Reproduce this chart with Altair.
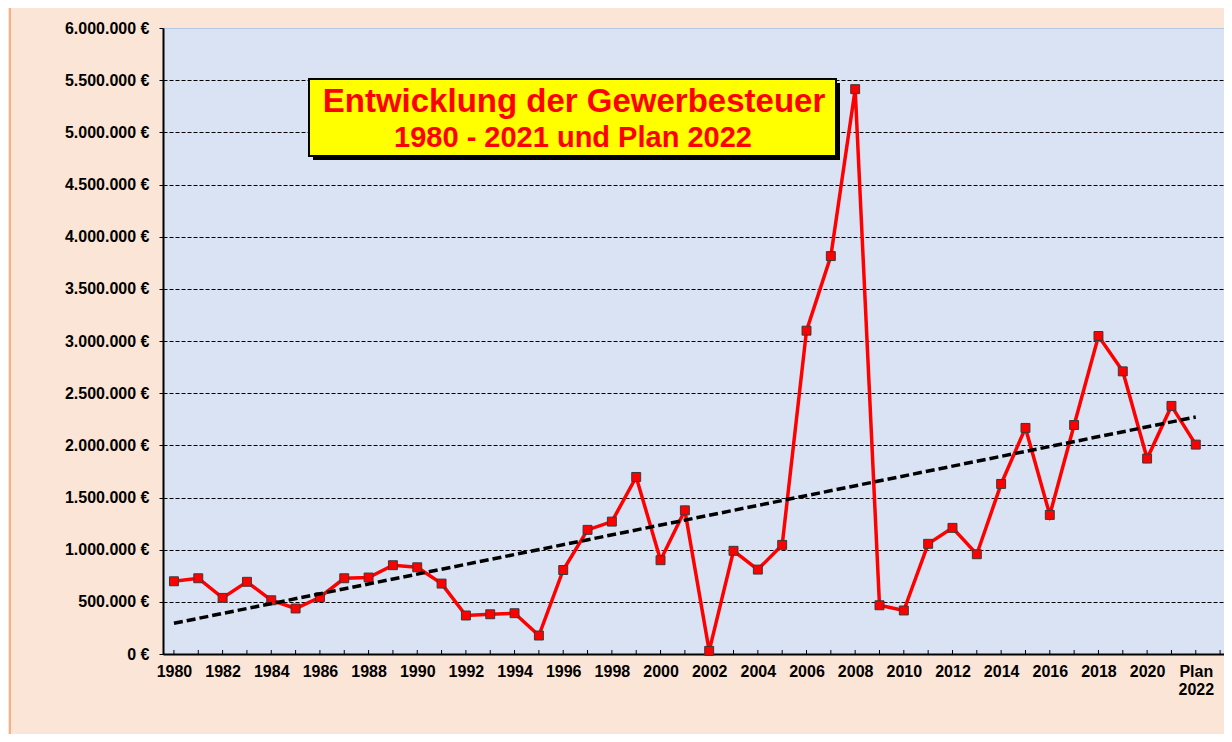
import altair as alt
import pandas as pd

# ---- data ----
years = list(range(1980, 2023))
values = [697000, 726000, 538000, 692000, 515000, 436000, 544000, 726000, 733000, 851000,
          831000, 675000, 369000, 381000, 391000, 177000, 805000, 1190000, 1269000, 1697000,
          899000, 1377000, 30000, 989000, 809000, 1046000, 3099000, 3814000, 5414000, 467000,
          417000, 1056000, 1209000, 956000, 1630000, 2167000, 1333000, 2195000, 3048000, 2709000,
          1873000, 2378000, 2007000]
label_years = list(range(1980, 2023, 2))
tick_years = list(range(1980, 2024))
y_ticks = list(range(0, 6000001, 500000))
title_lines = ["Entwicklung der Gewerbesteuer", "1980 - 2021 und Plan 2022"]

W, H = 1061, 626
FONT = "Liberation Sans, Arial, sans-serif"

df = pd.DataFrame({"year": years, "value": values})
one = pd.DataFrame({"a": [0]})

xscale = alt.Scale(domain=[1979.55, 2023.16], nice=False, zero=False)
yscale = alt.Scale(domain=[0, 6000000], nice=False, zero=True)

xenc = alt.X(
    "year:Q", scale=xscale,
    axis=alt.Axis(
        values=label_years,
        labelExpr="datum.value == 2022 ? ['Plan', '2022'] : '' + datum.value",
        ticks=False, grid=False, domainColor="black", domainWidth=2,
        labelFont=FONT, labelFontSize=16, labelFontWeight="bold", labelColor="black",
        labelPadding=9, labelLineHeight=18, labelBaseline="top",
        labelFlush=False, labelOverlap=False, title=None,
    ),
)
yenc = alt.Y(
    "value:Q", scale=yscale,
    axis=alt.Axis(
        values=y_ticks,
        labelExpr="replace(format(datum.value, ','), regexp(',', 'g'), '.') + ' €'",
        grid=True, gridColor="black", gridDash=[4, 2], gridWidth=1,
        gridOpacity={"condition": {"test": "datum.value >= 6000000", "value": 0}, "value": 1},
        ticks=True, tickSize=4, tickColor="black", domainColor="black", domainWidth=2,
        labelFont=FONT, labelFontSize=16, labelFontWeight="bold", labelColor="black",
        labelPadding=10, labelOverlap=False, title=None,
    ),
)

ticks = alt.Chart(pd.DataFrame({"year": tick_years, "value": [0] * len(tick_years)})).mark_rule(
    color="black", strokeWidth=1
).encode(x=xenc, y=alt.value(H - 4), y2=alt.value(H))

line = alt.Chart(df).mark_line(color="#FF0000", strokeWidth=3.5).encode(x=xenc, y=yenc)

pts = alt.Chart(df).mark_point(
    shape="square", filled=True, size=80, fill="#FF0000", stroke="#3a3a3a",
    strokeWidth=1, opacity=1
).encode(x=xenc, y=yenc)

trend = alt.Chart(df).transform_regression(
    "year", "value", extent=[1980, 2022]
).mark_line(color="black", strokeDash=[9, 4], strokeWidth=3.5).encode(x=xenc, y=yenc)

# title box
shadow = alt.Chart(one).mark_rect(color="black").encode(
    x=alt.value(150), x2=alt.value(677), y=alt.value(55), y2=alt.value(132)
)
box = alt.Chart(one).mark_rect(fill="#FFFF00", stroke="black", strokeWidth=2).encode(
    x=alt.value(146), x2=alt.value(673), y=alt.value(51), y2=alt.value(128)
)
t1 = alt.Chart(one).mark_text(
    text=title_lines[0], font=FONT, fontSize=33, fontWeight="bold", color="#FF0000",
    align="center", baseline="alphabetic"
).encode(x=alt.value(411), y=alt.value(84))
t2 = alt.Chart(one).mark_text(
    text=title_lines[1], font=FONT, fontSize=29, fontWeight="bold", color="#FF0000",
    align="center", baseline="alphabetic"
).encode(x=alt.value(410), y=alt.value(119))

border = alt.Chart(one).mark_rule(color="#F4B183", strokeWidth=2).encode(
    x=alt.value(-153), y=alt.value(-20), y2=alt.value(H + 80)
)

chart = alt.layer(
    border, ticks, line, pts, trend, shadow, box, t1, t2
).properties(
    width=W, height=H,
    background="#FBE5D6",
    padding={"left": 155, "top": 20, "right": 0, "bottom": 80},
    autosize=alt.AutoSizeParams(type="none"),
).configure_view(
    fill="#DAE3F3", stroke="#B4C7E7", strokeWidth=1
)

chart.save("out.html", embed_options={"renderer": "svg", "actions": False})
